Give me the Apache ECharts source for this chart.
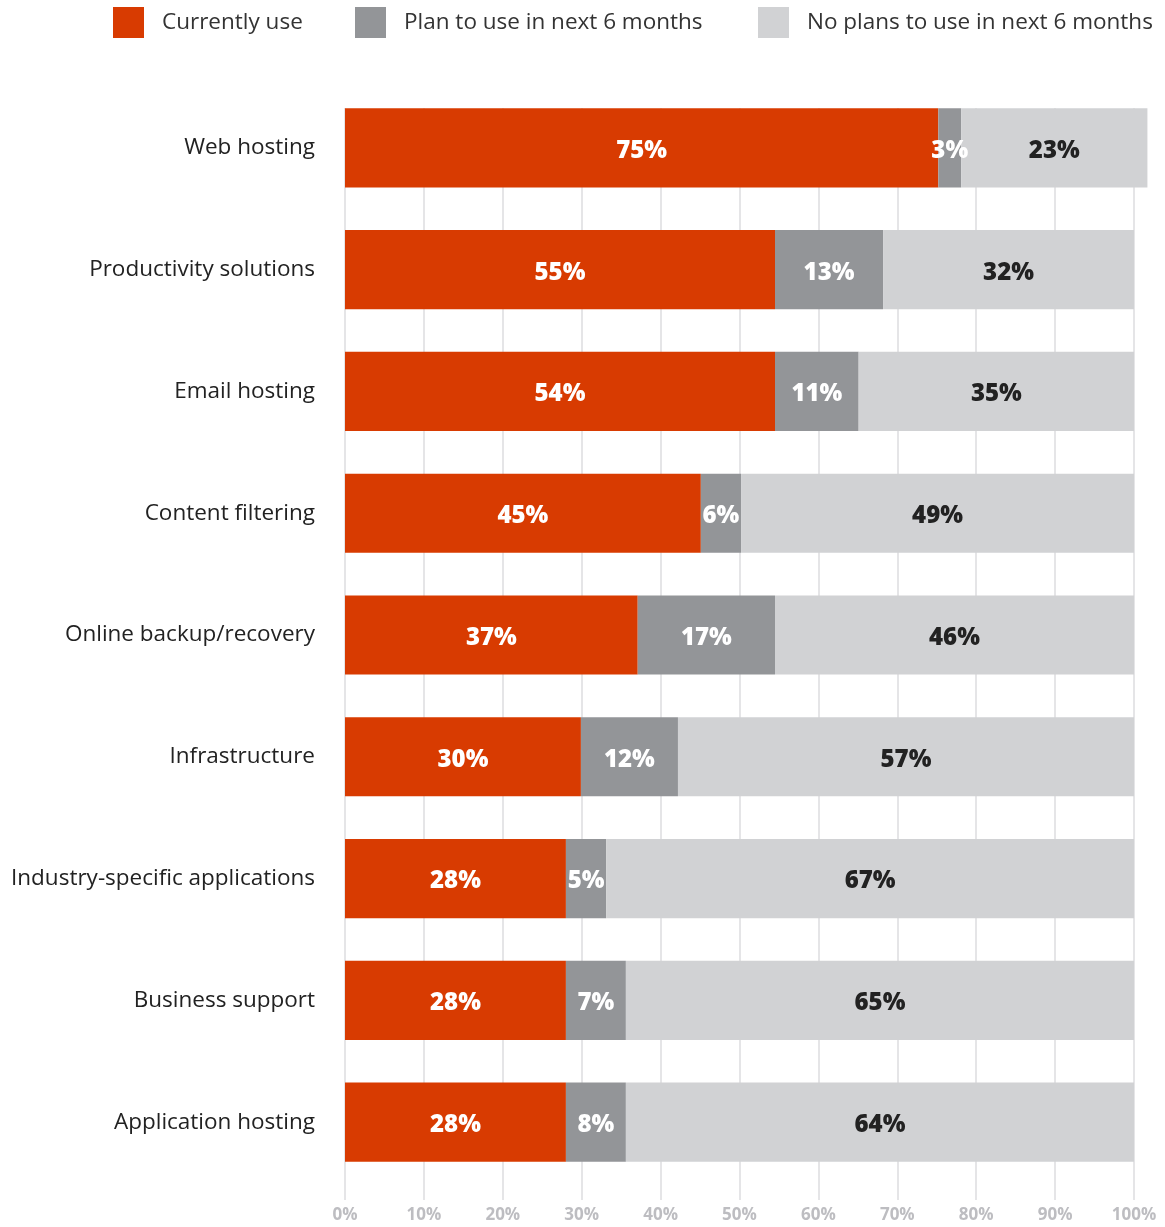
<!DOCTYPE html>
<html>
<head>
<meta charset="utf-8">
<script src="https://cdn.jsdelivr.net/npm/echarts@6/dist/echarts.min.js"></script>
<style>
  html, body { margin: 0; padding: 0; background: #fff; }
  #chart { width: 1165px; height: 1227px; }
</style>
</head>
<body>
<div id="chart"></div>
<script>
// categories, top to bottom
const categories = [
  'Web hosting',
  'Productivity solutions',
  'Email hosting',
  'Content filtering',
  'Online backup/recovery',
  'Infrastructure',
  'Industry-specific applications',
  'Business support',
  'Application hosting'
];

// segment lengths as drawn (unrounded)
const currentlyUse = [75.2, 54.5, 54.5, 45.1, 37.1, 29.9, 28, 28, 28];
const planToUse = [2.9, 13.7, 10.6, 5.1, 17.4, 12.3, 5.1, 7.6, 7.6];
const noPlans = [23.6, 31.8, 34.9, 49.8, 45.5, 57.8, 66.9, 64.4, 64.4];

// printed percentages
const currentlyUseLabels = [75, 55, 54, 45, 37, 30, 28, 28, 28];
const planToUseLabels = [3, 13, 11, 6, 17, 12, 5, 7, 8];
const noPlansLabels = [23, 32, 35, 49, 46, 57, 67, 65, 64];

const seriesNames = ['Currently use', 'Plan to use in next 6 months', 'No plans to use in next 6 months'];
const colors = ['#D83B01', '#939598', '#D1D2D4'];
const labelColors = ['#fff', '#fff', '#222'];
const legendLefts = [113, 355, 758];

const font = '"Open Sans", "Noto Sans", sans-serif';

const chart = echarts.init(document.getElementById('chart'));

function barSeries(i, data, labels) {
  return {
    name: seriesNames[i],
    type: 'bar',
    stack: 'total',
    xAxisIndex: 0,
    yAxisIndex: 0,
    data: data,
    barWidth: '65%',
    clip: false,
    itemStyle: { color: colors[i] },
    label: {
      show: true,
      position: 'inside',
      offset: [0, 3],
      formatter: (p) => labels[p.dataIndex] + '%',
      color: labelColors[i],
      fontFamily: font,
      fontWeight: 800,
      fontSize: 24
    },
    emphasis: { disabled: true }
  };
}

const option = {
  animation: false,
  legend: seriesNames.map((name, i) => ({
    left: legendLefts[i],
    top: 7,
    padding: 0,
    itemWidth: 31,
    itemHeight: 31,
    icon: 'rect',
    selectedMode: false,
    textStyle: {
      fontFamily: font,
      fontSize: 22.5,
      color: '#333',
      padding: [0, 0, 0, 13]
    },
    data: [name]
  })),
  grid: [
    { left: 345, right: 31, top: 87, bottom: 44 },
    { left: 345, right: 31, top: 108, bottom: 27 }
  ],
  xAxis: [
    {
      gridIndex: 0,
      type: 'value',
      min: 0,
      max: 100,
      show: false
    },
    {
      gridIndex: 1,
      type: 'value',
      min: 0,
      max: 100,
      interval: 10,
      axisLine: { show: false },
      axisTick: { show: false },
      splitLine: { show: true, lineStyle: { color: '#E5E5E7', width: 2 } },
      axisLabel: {
        formatter: '{value}%',
        margin: 7,
        color: '#BDBDC1',
        fontFamily: font,
        fontWeight: 'bold',
        fontSize: 17
      }
    }
  ],
  yAxis: [
    {
      gridIndex: 0,
      type: 'category',
      inverse: true,
      data: categories,
      axisLine: { show: false },
      axisTick: { show: false },
      axisLabel: {
        margin: 30,
        color: '#222',
        fontFamily: font,
        fontSize: 22.5
      }
    },
    {
      gridIndex: 1,
      type: 'value',
      show: false
    }
  ],
  series: [
    barSeries(0, currentlyUse, currentlyUseLabels),
    barSeries(1, planToUse, planToUseLabels),
    barSeries(2, noPlans, noPlansLabels)
  ]
};

chart.setOption(option);
</script>
</body>
</html>
